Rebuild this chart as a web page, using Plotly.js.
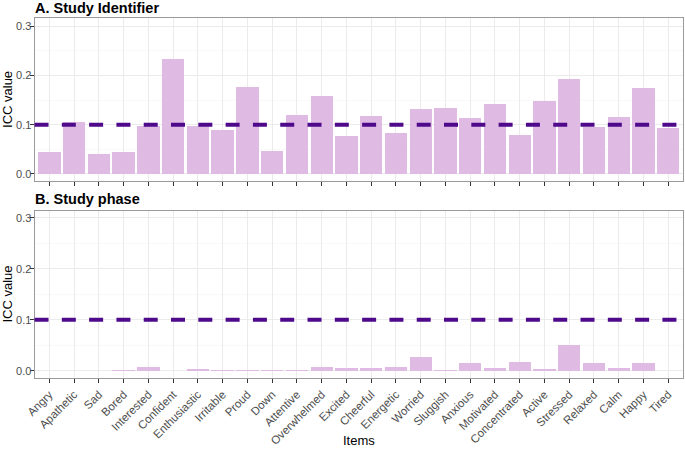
<!DOCTYPE html>
<html>
<head>
<meta charset="utf-8">
<script src="https://cdn.plot.ly/plotly-3.0.1.min.js"></script>
<style>
  html, body { margin: 0; padding: 0; background: #ffffff; }
  #chart { width: 685px; height: 451px; }
</style>
</head>
<body>
<div id="chart"></div>
<script>
// Mood items rated in the study
const items = ["Angry", "Apathetic", "Sad", "Bored", "Interested", "Confident",
  "Enthusiastic", "Irritable", "Proud", "Down", "Attentive", "Overwhelmed",
  "Excited", "Cheerful", "Energetic", "Worried", "Sluggish", "Anxious",
  "Motivated", "Concentrated", "Active", "Stressed", "Relaxed", "Calm",
  "Happy", "Tired"];

// Intraclass correlation per item, clustered by study identifier
const iccStudyId = [0.045, 0.105, 0.041, 0.045, 0.097, 0.233,
  0.098, 0.090, 0.176, 0.047, 0.120, 0.158,
  0.078, 0.117, 0.084, 0.131, 0.134, 0.114,
  0.141, 0.080, 0.149, 0.192, 0.096, 0.116,
  0.174, 0.093];

// Intraclass correlation per item, clustered by study phase
const iccStudyPhase = [0.000, 0.000, 0.000, 0.001, 0.007, 0.000,
  0.003, 0.001, 0.001, 0.001, 0.001, 0.008,
  0.005, 0.005, 0.007, 0.026, 0.001, 0.015,
  0.006, 0.017, 0.003, 0.051, 0.015, 0.006,
  0.015, 0.000];

// Reference threshold drawn as a dashed line in both panels
const iccThreshold = 0.1;

const yTicks = [0, 0.1, 0.2, 0.3];

const barColor = "#dfbae3";
const lineColor = "#4f0a8c";
const font = "Liberation Sans, Arial, sans-serif";

const traces = [
  { type: "bar", x: items, y: iccStudyId, xaxis: "x", yaxis: "y",
    width: 0.9, marker: { color: barColor, line: { width: 0 } },
    hoverinfo: "x+y" },
  { type: "bar", x: items, y: iccStudyPhase, xaxis: "x2", yaxis: "y2",
    width: 0.9, marker: { color: barColor, line: { width: 0 } },
    hoverinfo: "x+y" }
];

const xDomain = [0.0504, 0.9971];
const xRange = [-0.6, items.length - 0.4];
const topDomain = [0.5976, 0.959];
const bottomDomain = [0.1612, 0.5328];

function xAxis(anchor, labels) {
  return {
    domain: xDomain, anchor: anchor, type: "category",
    range: xRange, autorange: false,
    showticklabels: labels, tickangle: -45,
    tickfont: { family: font, size: 11.5, color: "#4d4d4d" },
    ticks: "outside", ticklen: 4, tickwidth: 1, tickcolor: "#333333",
    showgrid: true, gridcolor: "#ebebeb", gridwidth: 1,
    showline: true, mirror: true, linecolor: "#9a9a9a", linewidth: 1,
    zeroline: false, fixedrange: true
  };
}

function yAxis(anchor, domain, range) {
  return {
    domain: domain, anchor: anchor, range: range, autorange: false,
    tickvals: yTicks, tickformat: ".1f",
    tickfont: { family: font, size: 11, color: "#4d4d4d" },
    ticklabelstandoff: -4,
    ticks: "outside", ticklen: 4, tickwidth: 1, tickcolor: "#333333",
    showgrid: true, gridcolor: "#ebebeb", gridwidth: 1,
    minor: { tick0: 0.05, dtick: 0.1, showgrid: true, gridcolor: "#f5f5f5", gridwidth: 0.6, ticks: "" },
    showline: true, mirror: true, linecolor: "#9a9a9a", linewidth: 1,
    zeroline: false, fixedrange: true
  };
}

function thresholdLine(xref, yref) {
  return {
    type: "line", xref: xref + " domain", yref: yref,
    x0: 0, x1: 1, y0: iccThreshold, y1: iccThreshold,
    line: { color: lineColor, width: 4, dash: "14px,13.3px" },
    layer: "above"
  };
}

function yTitle(domain) {
  return {
    text: "ICC value", xref: "paper", yref: "paper", textangle: -90,
    x: 8 / 685, y: (domain[0] + domain[1]) / 2, xanchor: "center", yanchor: "middle",
    showarrow: false, font: { family: font, size: 13, color: "#000000" }
  };
}

function panelTitle(text, yPx) {
  return {
    text: "<b>" + text + "</b>", xref: "paper", yref: "paper",
    x: 33 / 685, y: 1 - yPx / 451, xanchor: "left", yanchor: "middle",
    showarrow: false, font: { family: font, size: 14.5, color: "#000000" }
  };
}

const layout = {
  width: 685, height: 451,
  margin: { l: 0, r: 0, t: 0, b: 0 },
  paper_bgcolor: "#ffffff", plot_bgcolor: "#ffffff",
  showlegend: false, bargap: 0,
  font: { family: font },
  xaxis: xAxis("y", false),
  yaxis: yAxis("x", topDomain, [-0.0152, 0.3154]),
  xaxis2: xAxis("y2", true),
  yaxis2: yAxis("x2", bottomDomain, [-0.0149, 0.3137]),
  shapes: [thresholdLine("x", "y"), thresholdLine("x2", "y2")],
  annotations: [
    panelTitle("A. Study Identifier", 8.5),
    panelTitle("B. Study phase", 198.5),
    yTitle(topDomain),
    yTitle(bottomDomain),
    { text: "Items", xref: "paper", yref: "paper",
      x: (34.5 + 683) / 2 / 685, y: 1 - 440 / 451, xanchor: "center", yanchor: "middle",
      showarrow: false, font: { family: font, size: 13, color: "#000000" } }
  ]
};

Plotly.newPlot("chart", traces, layout, { displayModeBar: false, staticPlot: true });
</script>
</body>
</html>
